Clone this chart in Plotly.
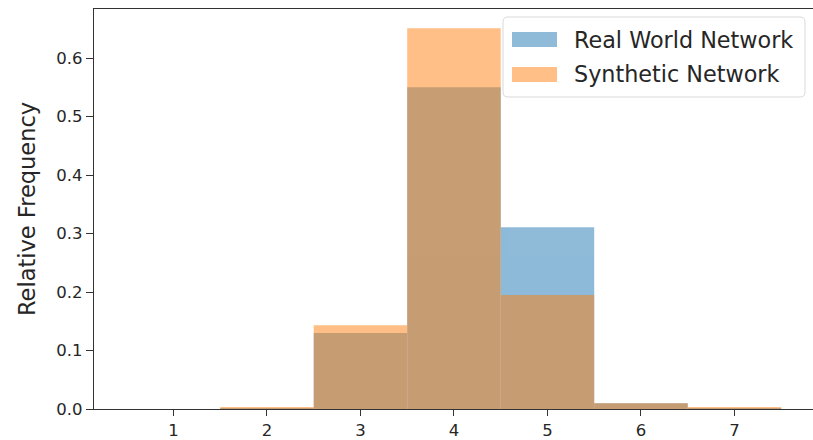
import plotly.graph_objects as go

# Degree bins and relative frequencies for each network
degree_bins = [1, 2, 3, 4, 5, 6, 7]
real_world_freq = [0.0, 0.001, 0.130, 0.550, 0.311, 0.010, 0.001]
synthetic_freq = [0.0, 0.003, 0.143, 0.651, 0.195, 0.010, 0.003]

series_names = ["Real World Network", "Synthetic Network"]
series_colors = ["#1f77b4", "#ff7f0e"]
y_ticks = [0.0, 0.1, 0.2, 0.3, 0.4, 0.5, 0.6]

FONT = "DejaVu Sans"
W, H = 813, 440
ML, MR, MT, MB = 94, 0, 9, 31

fig = go.Figure()
for name, vals, col in zip(series_names, [real_world_freq, synthetic_freq], series_colors):
    fig.add_trace(go.Bar(
        x=degree_bins, y=vals, name=name, width=1.0,
        marker=dict(color=col, line=dict(width=0)),
        opacity=0.5, showlegend=False,
    ))

fig.update_layout(
    width=W, height=H,
    margin=dict(l=ML, r=MR, t=MT, b=MB, pad=0),
    barmode="overlay",
    plot_bgcolor="white", paper_bgcolor="white",
    font=dict(family=FONT, color="#262626"),
    xaxis=dict(
        range=[0.15, 7.84], tickmode="array", tickvals=degree_bins,
        ticktext=[str(v) for v in degree_bins],
        showgrid=False, zeroline=False,
        showline=True, mirror=True, linecolor="#333333", linewidth=1.3,
        ticks="outside", ticklen=6, tickwidth=1.2, tickcolor="#333333",
        tickfont=dict(size=16.5, family=FONT, color="#262626"),
    ),
    yaxis=dict(
        range=[0, 0.684], tickmode="array", tickvals=y_ticks,
        ticktext=[f"{v:.1f}" for v in y_ticks],
        showgrid=False, zeroline=False,
        showline=True, mirror=False, linecolor="#333333", linewidth=1.3,
        ticks="outside", ticklen=7, tickwidth=1.2, tickcolor="#333333",
        tickfont=dict(size=16.5, family=FONT, color="#262626"),
        title=dict(text="Relative Frequency", font=dict(size=22.5, family=FONT, color="#262626"), standoff=14),
    ),
)

# Legend box drawn in pixel space (converted to paper coordinates)
pw, ph = W - ML - MR, H - MT - MB


def px(x):
    return (x - ML) / pw


def py(y):
    return 1 - (y - MT) / ph


bx0, bx1, by0, by1, r = 503, 805, 17, 97, 5
path = (
    f"M {px(bx0 + r)},{py(by0)} L {px(bx1 - r)},{py(by0)} "
    f"Q {px(bx1)},{py(by0)} {px(bx1)},{py(by0 + r)} L {px(bx1)},{py(by1 - r)} "
    f"Q {px(bx1)},{py(by1)} {px(bx1 - r)},{py(by1)} L {px(bx0 + r)},{py(by1)} "
    f"Q {px(bx0)},{py(by1)} {px(bx0)},{py(by1 - r)} L {px(bx0)},{py(by0 + r)} "
    f"Q {px(bx0)},{py(by0)} {px(bx0 + r)},{py(by0)} Z"
)
fig.add_shape(type="path", path=path, xref="paper", yref="paper",
              fillcolor="rgba(255,255,255,0.8)", line=dict(color="#d9d9d9", width=1))

rows = [(32, 47, 40), (67, 82, 74)]
for (y0, y1, yc), name, col in zip(rows, series_names, series_colors):
    fig.add_shape(type="rect", xref="paper", yref="paper",
                  x0=px(512), x1=px(557), y0=py(y1), y1=py(y0),
                  fillcolor=col, opacity=0.5, line=dict(width=0))
    fig.add_annotation(x=px(572), y=py(yc), xref="paper", yref="paper",
                       text=name, showarrow=False, xanchor="left", yanchor="middle",
                       font=dict(size=22.3, family=FONT, color="#262626"))

fig.write_html("out.html")
